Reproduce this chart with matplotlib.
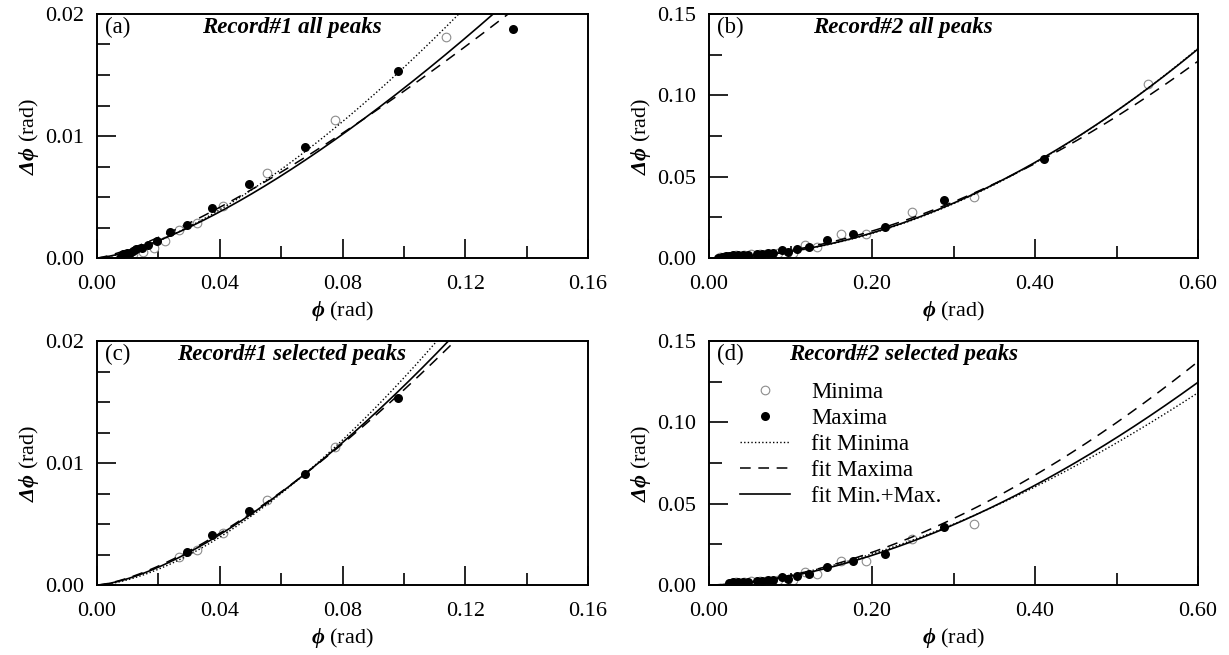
import numpy as np
import matplotlib
matplotlib.use("Agg")
import matplotlib.pyplot as plt

plt.rcParams['font.family'] = ['Liberation Serif', 'DejaVu Serif']
plt.rcParams['mathtext.fontset'] = 'custom'
plt.rcParams['mathtext.rm'] = 'Liberation Serif'
plt.rcParams['mathtext.bf'] = 'Liberation Serif:bold:italic'
plt.rcParams['mathtext.it'] = 'Liberation Serif:italic'

# Record #1 peaks (phi, delta phi) in rad
r1_min_x = [0.0080, 0.0118, 0.0151, 0.0185, 0.0220, 0.0266, 0.0326, 0.0412, 0.0553, 0.0776, 0.1137]
r1_min_y = [0.0000, 0.0003, 0.0005, 0.0008, 0.0014, 0.0023, 0.0029, 0.0043, 0.0070, 0.0113, 0.0181]
r1_max_x = [0.0075, 0.0086, 0.0098, 0.0108, 0.0118, 0.0127, 0.0146, 0.0167, 0.0195, 0.0238,
            0.0292, 0.0376, 0.0495, 0.0678, 0.0980, 0.1355]
r1_max_y = [0.0000, 0.0003, 0.0004, 0.0004, 0.0006, 0.0007, 0.0008, 0.0011, 0.0014, 0.0021,
            0.0027, 0.0041, 0.0061, 0.0091, 0.0153, 0.0188]

# Record #2 peaks
r2_min_x = [0.0140, 0.0190, 0.0280, 0.0330, 0.0430, 0.0520, 0.0620, 0.0700, 0.0850, 0.1035,
            0.1178, 0.1321, 0.1616, 0.1922, 0.2487, 0.3250, 0.5390]
r2_min_y = [0.0004, 0.0008, 0.0014, 0.0017, 0.0021, 0.0022, 0.0024, 0.0026, 0.0031, 0.0033,
            0.0080, 0.0070, 0.0146, 0.0146, 0.0280, 0.0377, 0.1070]
r2_max_x = [0.0115, 0.0155, 0.0210, 0.0250, 0.0298, 0.0360, 0.0421, 0.0482, 0.0585, 0.0646,
            0.0728, 0.0781, 0.0892, 0.0973, 0.1084, 0.1231, 0.1452, 0.1763, 0.2160, 0.2883, 0.4110]
r2_max_y = [0.0003, 0.0007, 0.0010, 0.0013, 0.0016, 0.0018, 0.0019, 0.0021, 0.0023, 0.0025,
            0.0030, 0.0029, 0.0047, 0.0038, 0.0054, 0.0070, 0.0108, 0.0150, 0.0190, 0.0357, 0.0610]

# phi ranges kept for the "selected peaks" fits
r1_sel = (0.025, 0.10)
r2_sel = (0.022, 0.35)

# power-law fits dphi = a * phi**b : (a, b) for minima, maxima, min+max
fit_r1_all = [(0.494, 1.50), (0.2728, 1.30), (0.366, 1.42)]
fit_r1_sel = [(0.676, 1.60), (0.4508, 1.45), (0.516, 1.50)]
fit_r2_all = [(0.349, 1.95), (0.305, 1.81), (0.3444, 1.93)]
fit_r2_sel = [(0.276, 1.66), (0.3357, 1.75), (0.3047, 1.75)]

panel_labels = ['(a)', '(b)', '(c)', '(d)']
titles = ['Record#1 all peaks', 'Record#2 all peaks',
          'Record#1 selected peaks', 'Record#2 selected peaks']

FS = 16      # tick labels, axis labels
FS_T = 16.5  # titles, legend

fig = plt.figure(figsize=(12.29, 6.55), dpi=100)
W, H = 1229, 655


def make_axes(x0, x1, y0, y1):
    return fig.add_axes([x0 / W, 1 - y1 / H, (x1 - x0) / W, (y1 - y0) / H])


axs = [make_axes(97, 588, 14, 258), make_axes(709, 1198, 14, 258),
       make_axes(97, 588, 341, 585), make_axes(709, 1198, 341, 585)]


def select(xs, ys, rng):
    xs = np.array(xs)
    ys = np.array(ys)
    m = (xs >= rng[0]) & (xs <= rng[1])
    return xs[m], ys[m]


def draw(ax, mins, maxs, fits, xmax):
    ax.plot(mins[0], mins[1], 'o', ms=6.2, mfc='white', mec='#8c8c8c', mew=0.8,
            label='Minima', zorder=2)
    ax.plot(maxs[0], maxs[1], 'o', ms=6.5, mfc='black', mec='black', mew=0,
            label='Maxima', zorder=4)
    xx = np.linspace(0, xmax, 400)
    styles = [dict(ls=(0, (1, 1.6)), lw=1.0), dict(ls=(0, (7, 5)), lw=1.1), dict(ls='-', lw=1.2)]
    names = ['fit Minima', 'fit Maxima', 'fit Min.+Max.']
    for (a, b), st, nm in zip(fits, styles, names):
        ax.plot(xx, a * xx ** b, color='black', label=nm, zorder=3, **st)


draw(axs[0], (r1_min_x, r1_min_y), (r1_max_x, r1_max_y), fit_r1_all, 0.16)
draw(axs[1], (r2_min_x, r2_min_y), (r2_max_x, r2_max_y), fit_r2_all, 0.6)
draw(axs[2], select(r1_min_x, r1_min_y, r1_sel), select(r1_max_x, r1_max_y, r1_sel), fit_r1_sel, 0.16)
draw(axs[3], select(r2_min_x, r2_min_y, r2_sel), select(r2_max_x, r2_max_y, r2_sel), fit_r2_sel, 0.6)

for i, ax in enumerate(axs):
    rec1 = i % 2 == 0
    if rec1:
        ax.set_xlim(0, 0.16)
        ax.set_ylim(0, 0.02)
        ax.set_xticks([0, 0.04, 0.08, 0.12, 0.16])
        ax.set_xticks(np.arange(0, 0.161, 0.02), minor=True)
        ax.set_yticks([0, 0.01, 0.02])
        ax.set_yticks(np.arange(0, 0.0201, 0.0025), minor=True)
    else:
        ax.set_xlim(0, 0.6)
        ax.set_ylim(0, 0.15)
        ax.set_xticks([0, 0.2, 0.4, 0.6])
        ax.set_xticks(np.arange(0, 0.61, 0.1), minor=True)
        ax.set_yticks([0, 0.05, 0.10, 0.15])
        ax.set_yticks(np.arange(0, 0.151, 0.025), minor=True)
    ax.xaxis.set_major_formatter(matplotlib.ticker.FormatStrFormatter('%.2f'))
    ax.yaxis.set_major_formatter(matplotlib.ticker.FormatStrFormatter('%.2f'))
    ax.tick_params(which='both', direction='in', top=False, right=False,
                   labelsize=FS, width=1.2)
    ax.tick_params(which='major', length=14)
    ax.tick_params(which='minor', length=9)
    ax.tick_params(axis='y', which='major', pad=9)
    ax.tick_params(axis='x', which='major', pad=12)
    for sp in ax.spines.values():
        sp.set_linewidth(1.4)
    ax.set_xlabel(r'$\mathbf{\phi}$ (rad)', fontsize=FS)
    ax.set_ylabel(r'$\mathbf{\Delta\phi}$ (rad)', fontsize=FS)
    ax.xaxis.set_label_coords(0.5, -0.17)
    ax.yaxis.set_label_coords(-0.114, 0.5)
    ax.text(0.016, 0.945, panel_labels[i], transform=ax.transAxes, fontsize=FS_T,
            ha='left', va='center')
    ax.text(0.397, 0.945, titles[i], transform=ax.transAxes, fontsize=FS_T,
            fontweight='bold', fontstyle='italic', ha='center', va='center')

axs[3].legend(loc='upper left', bbox_to_anchor=(0.063, 0.834), frameon=False,
              fontsize=FS_T, handlelength=2.2, handletextpad=0.9, labelspacing=0.22,
              borderpad=0, borderaxespad=0)

fig.savefig('out.png', dpi=100)
